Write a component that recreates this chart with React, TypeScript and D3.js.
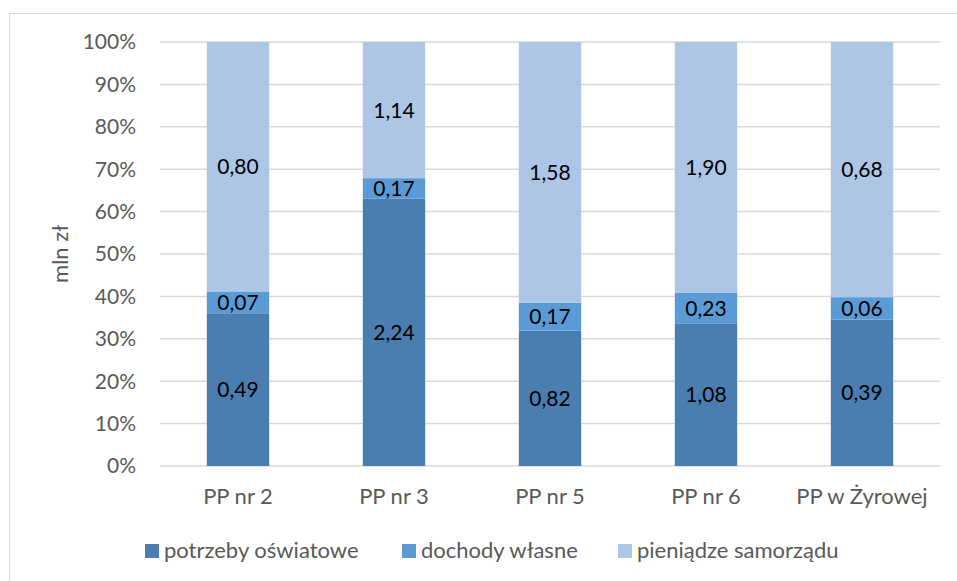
import * as d3 from "d3";

const categories = ["PP nr 2", "PP nr 3", "PP nr 5", "PP nr 6", "PP w Żyrowej"];
const seriesNames = ["potrzeby oświatowe", "dochody własne", "pieniądze samorządu"];
const potrzeby = [0.49, 2.24, 0.82, 1.08, 0.39];
const dochody = [0.07, 0.17, 0.17, 0.23, 0.06];
const pieniadze = [0.8, 1.14, 1.58, 1.9, 0.68];
const yTicks = [0, 0.1, 0.2, 0.3, 0.4, 0.5, 0.6, 0.7, 0.8, 0.9, 1];
const colors = ["#4a7eb1", "#5b9bd5", "#adc6e6"];

const W = 957;
const H = 581;
const m = { t: 42, r: 17, b: 115, l: 160 };
const FONT = "Lato, 'Open Sans', sans-serif";
const FS = 21;

export default function App() {
  const values = [potrzeby, dochody, pieniadze];
  const rows = categories.map((c, i) => {
    const obj: { [k: string]: number | string } = { cat: c };
    values.forEach((arr, s) => (obj[`${s}`] = arr[i]));
    return obj;
  });
  const stack = d3
    .stack<any>()
    .keys(["0", "1", "2"])
    .offset(d3.stackOffsetExpand);
  const stacked = stack(rows);

  const x = d3
    .scaleBand()
    .domain(categories)
    .range([m.l, W - m.r])
    .paddingInner(0.6)
    .paddingOuter(0.3);
  const y = d3.scaleLinear().domain([0, 1]).range([H - m.b, m.t]);
  const fmt = (v: number) => v.toFixed(2).replace(".", ",");

  return (
    <svg
      width={W}
      height={H}
      style={{ position: "absolute", left: 0, top: 0, background: "#fff" }}
      fontFamily={FONT}
    >
      <rect x={9.5} y={13.5} width={W + 10} height={H + 10} fill="none" stroke="#d9d9d9" />
      {yTicks.map((t) => (
        <g key={t}>
          <line
            x1={m.l}
            x2={W - m.r}
            y1={y(t)}
            y2={y(t)}
            stroke="#d9d9d9"
            strokeWidth={1.5}
          />
          <text
            x={136}
            y={y(t)}
            dy="0.35em"
            textAnchor="end"
            fontSize={FS}
            fill="#595959"
          >
            {d3.format(".0%")(t)}
          </text>
        </g>
      ))}
      {stacked.map((s, si) => (
        <g key={si}>
          {s.map((d, i) => {
            const cat = categories[i];
            const y0 = y(d[0]);
            const y1 = y(d[1]);
            return (
              <g key={cat}>
                <rect
                  x={x(cat)!}
                  width={x.bandwidth()}
                  y={y1}
                  height={y0 - y1}
                  fill={colors[si]}
                />
                <text
                  x={x(cat)! + x.bandwidth() / 2}
                  y={(y0 + y1) / 2}
                  dy="0.36em"
                  textAnchor="middle"
                  fontSize={FS}
                  fill="#000"
                >
                  {fmt(values[si][i])}
                </text>
              </g>
            );
          })}
        </g>
      ))}
      {categories.map((c) => (
        <text
          key={c}
          x={x(c)! + x.bandwidth() / 2}
          y={504}
          textAnchor="middle"
          fontSize={22}
          fill="#595959"
        >
          {c}
        </text>
      ))}
      <text
        transform="translate(68,254) rotate(-90)"
        textAnchor="middle"
        fontSize={22}
        fill="#595959"
      >
        mln zł
      </text>
      {seriesNames.map((n, i) => {
        const lx = [145, 402, 618][i];
        return (
          <g key={n}>
            <rect x={lx} y={544} width={14} height={14} fill={colors[i]} />
            <text x={lx + 19} y={558} fontSize={22} fill="#595959">
              {n}
            </text>
          </g>
        );
      })}
    </svg>
  );
}
